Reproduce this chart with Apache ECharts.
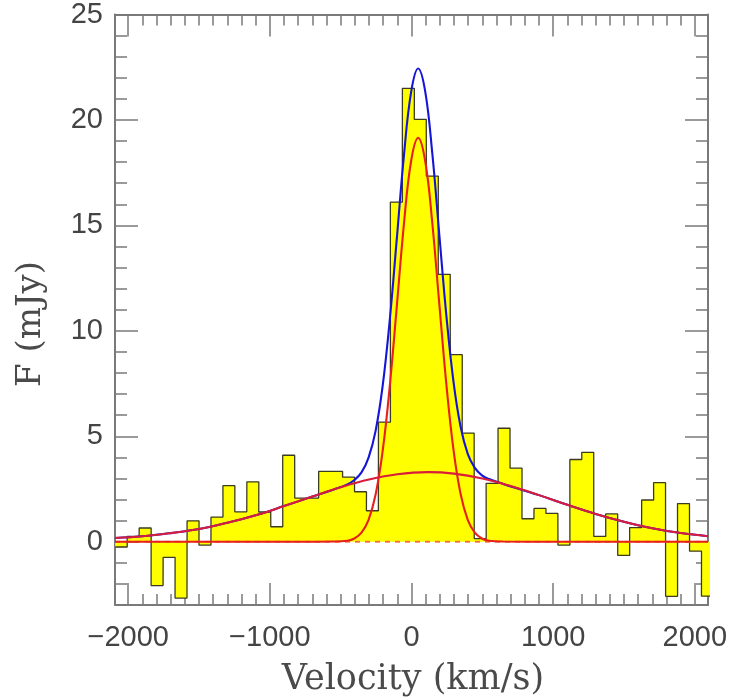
<!DOCTYPE html>
<html>
<head>
<meta charset="utf-8">
<script src="https://cdn.jsdelivr.net/npm/echarts@6/dist/echarts.min.js"></script>
<style>
html,body{margin:0;padding:0;background:#fff;}
#chart{width:736px;height:699px;}
</style>
</head>
<body>
<div id="chart"></div>
<script>
// ---- Data ----
// Channel centres (km/s) and flux (mJy)
const velocity = [-2049,-1965,-1880,-1796,-1711,-1627,-1542,-1458,-1373,-1289,
  -1205,-1120,-1036,-951,-867,-782,-698,-613,-529,-444,
  -360,-276,-191,-107,-22,62,147,231,316,400,
  485,569,653,738,822,907,991,1076,1160,1244,
  1329,1413,1498,1582,1667,1751,1836,1920,2005,2089];
const flux = [-0.25,0.25,0.65,-2.08,-0.74,-2.67,0.99,-0.16,1.17,2.66,
  1.42,2.84,1.41,0.71,4.10,2.07,2.07,3.34,3.34,3.06,
  2.37,1.47,5.67,16.10,21.50,20.03,17.34,12.68,8.87,5.15,
  0.15,2.77,5.38,3.49,1.09,1.58,1.34,-0.16,3.90,4.24,
  0.25,1.32,-0.65,0.67,1.98,2.80,-2.59,1.81,-0.45,-2.58];
const channelWidth = 84.45;

// Narrow component (red)
const narrowV = [-2093,-1200,-800,-553,-453,-403,-353,-303,-253,-203,-153,-103,-53,-3,47,
  97,147,197,247,297,347,397,447,497,547,647,1000,1500,2093];
const narrowF = [0,0,0,0.01,0.05,0.155,0.43,1.04,2.25,4.33,7.40,11.22,15.10,18.04,19.15,
  18.04,15.10,11.22,7.40,4.33,2.25,1.04,0.43,0.155,0.05,0.01,0,0,0];

// Broad component (red)
const broadV = [-2093,-1900,-1700,-1500,-1300,-1100,-900,-700,-500,-300,-100,115,
  300,500,700,900,1100,1300,1500,1700,1900,2093];
const broadF = [0.18,0.26,0.41,0.60,0.90,1.26,1.69,2.14,2.58,2.95,3.20,3.30,
  3.23,3.00,2.64,2.21,1.75,1.32,0.95,0.64,0.41,0.26];

// Total fit (blue)
const totalV = [-2093,-1900,-1700,-1500,-1300,-1100,-900,-700,-553,-453,-403,-353,-303,-253,-203,-153,-103,-53,-3,47,
  97,147,197,247,297,347,397,447,497,547,647,900,1100,1300,1500,1700,1900,2093];
const totalF = [0.18,0.26,0.41,0.60,0.90,1.26,1.69,2.14,2.47,2.72,2.93,3.29,3.99,5.27,7.42,10.55,14.42,18.34,21.31,22.44,
  21.34,18.40,14.51,10.66,7.56,5.44,4.17,3.50,3.15,2.97,2.74,2.21,1.75,1.32,0.95,0.64,0.41,0.26];

// Axis ticks / labels
const xMajorTicks = [-2000,-1000,0,1000,2000];
const yMajorTicks = [0,5,10,15,20,25];
const xRange = [-2093, 2093];
const yRange = [-3, 25];

// ---- Build chart ----
const xMinorTicks = [];
for (let v = -2000; v <= 2000; v += 100) if (xMajorTicks.indexOf(v) < 0) xMinorTicks.push(v);
const yMinorTicks = [];
for (let v = -3; v <= 25; v += 1) if (yMajorTicks.indexOf(v) < 0) yMinorTicks.push(v);

const histPts = [];
velocity.forEach((c, i) => {
  histPts.push([c - channelWidth / 2, flux[i]]);
  histPts.push([c + channelWidth / 2, flux[i]]);
});
const zip = (a, b) => a.map((v, i) => [v, b[i]]);

const frameColor = '#7a7a7a';
const labelFont = { fontFamily: 'Liberation Sans', fontSize: 29, color: '#444' };
const minus = v => String(v).replace('-', '\u2212');

function xAx(pos, major, withLabel) {
  return {
    type: 'value', min: xRange[0], max: xRange[1], position: pos,
    axisLine: { show: major, onZero: false, lineStyle: { color: frameColor, width: 2 } },
    axisTick: { show: true, inside: true, length: major ? 22 : 11,
      customValues: major ? xMajorTicks : xMinorTicks,
      lineStyle: { color: frameColor, width: 1.5 } },
    axisLabel: withLabel ? Object.assign({ show: true, customValues: xMajorTicks, margin: 18, formatter: minus }, labelFont)
                         : { show: false },
    splitLine: { show: false }
  };
}
function yAx(pos, major, withLabel) {
  return {
    type: 'value', min: yRange[0], max: yRange[1], position: pos,
    axisLine: { show: major, onZero: false, lineStyle: { color: frameColor, width: 2 } },
    axisTick: { show: true, inside: true, length: major ? 23 : 12,
      customValues: major ? yMajorTicks : yMinorTicks,
      lineStyle: { color: frameColor, width: 1.5 } },
    axisLabel: withLabel ? Object.assign({ show: true, customValues: yMajorTicks, margin: 12, formatter: minus }, labelFont)
                         : { show: false },
    splitLine: { show: false }
  };
}

const chart = echarts.init(document.getElementById('chart'), null, { renderer: 'canvas' });
chart.setOption({
  animation: false,
  backgroundColor: '#ffffff',
  grid: { left: 115, top: 14, width: 593, height: 591 },
  xAxis: [xAx('bottom', true, true), xAx('bottom', false, false), xAx('top', true, false), xAx('top', false, false)],
  yAxis: [yAx('left', true, true), yAx('left', false, false), yAx('right', true, false), yAx('right', false, false)],
  graphic: [
    { type: 'text', z: 100, x: 413, y: 680,
      style: { text: 'Velocity (km/s)', x: 0, y: 0, align: 'center', verticalAlign: 'middle',
        font: '35px "DejaVu Serif"', fill: '#4a4a4a' } },
    { type: 'text', z: 100, x: 31, y: 324, rotation: Math.PI / 2,
      style: { text: 'F (mJy)', x: 0, y: 0, align: 'center', verticalAlign: 'middle',
        font: '34px "DejaVu Serif"', fill: '#4a4a4a' } }
  ],
  series: [
    { type: 'line', name: 'spectrum', data: histPts, showSymbol: false, clip: true,
      lineStyle: { color: '#3b3b22', width: 1.3 },
      areaStyle: { color: '#ffff00', opacity: 1, origin: 0 } },
    { type: 'line', name: 'zero', data: [[xRange[0], 0], [xRange[1], 0]], showSymbol: false,
      lineStyle: { color: '#f06a3a', width: 1.8, type: [5, 5] } },
    { type: 'line', name: 'total', data: zip(totalV, totalF), showSymbol: false, smooth: 0.4,
      lineStyle: { color: '#1515d8', width: 2.1 } },
    { type: 'line', name: 'narrow', data: zip(narrowV, narrowF), showSymbol: false, smooth: 0.4,
      lineStyle: { color: '#e8201c', width: 2.1 } },
    { type: 'line', name: 'broad', data: zip(broadV, broadF), showSymbol: false, smooth: 0.4,
      lineStyle: { color: '#d81c3a', width: 2.1 } }
  ]
});
</script>
</body>
</html>
